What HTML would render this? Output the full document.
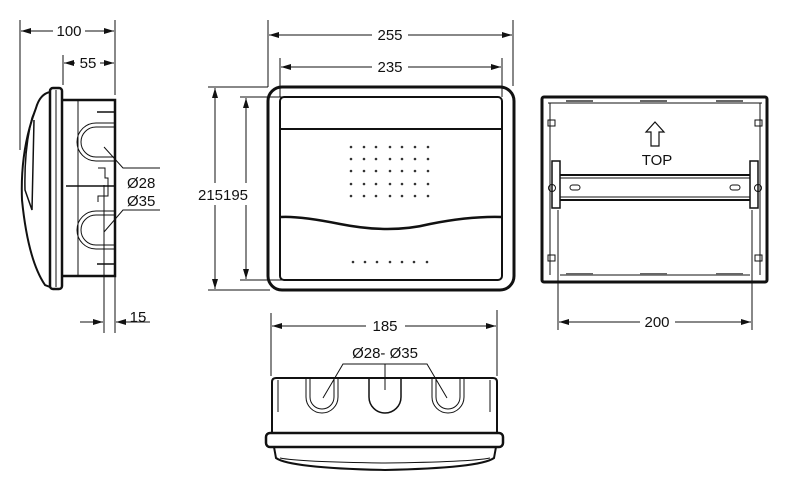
<!DOCTYPE html>
<html><head><meta charset="utf-8"><style>
html,body{margin:0;padding:0;background:#fff;}
svg{display:block;}
text{font-family:"Liberation Sans",sans-serif;font-size:15px;fill:#111;}
</style></head><body>
<svg width="800" height="501" viewBox="0 0 800 501" xmlns="http://www.w3.org/2000/svg">
<defs>
<marker id="a" viewBox="0 0 10 6" refX="10" refY="3" markerWidth="10" markerHeight="6" orient="auto-start-reverse" markerUnits="userSpaceOnUse"><path d="M0,0 L10,3 L0,6 z" fill="#111"/></marker>
</defs>
<g stroke="#111" fill="none" stroke-width="1">
<!-- LEFT VIEW dims -->
<line x1="20" y1="20" x2="20" y2="150"/>
<line x1="115" y1="20" x2="115" y2="95"/>
<line x1="63" y1="55" x2="63" y2="85"/>
<line x1="21" y1="31" x2="53" y2="31" marker-start="url(#a)"/>
<line x1="85" y1="31" x2="114" y2="31" marker-end="url(#a)"/>
<line x1="64" y1="63" x2="75" y2="63" marker-start="url(#a)"/>
<line x1="100" y1="63" x2="114" y2="63" marker-end="url(#a)"/>
<line x1="104" y1="185" x2="104" y2="333"/>
<line x1="115" y1="275" x2="115" y2="333"/>
<line x1="80" y1="322" x2="103" y2="322" marker-end="url(#a)"/>
<line x1="150" y1="322" x2="116" y2="322" marker-end="url(#a)"/>
<polyline points="104,147 123,168 160,168"/>
<polyline points="104,232 123,210 160,210"/>
<!-- left view body -->
<path d="M50,92 Q40,94 36,108 Q20,150 22,200 Q28,260 45,285 L50,287" stroke-width="2"/>
<path d="M36,108 L32,118 Q24,150 25,190 L32,210 L34,120" stroke-width="1.5"/>
<rect x="50" y="88" width="12" height="201" rx="3" stroke-width="2.5"/>
<line x1="56" y1="90" x2="56" y2="287"/>
<path d="M62,100 L115,100 L115,276 L62,276" stroke-width="2.5"/>
<line x1="78" y1="101" x2="78" y2="275"/>
<line x1="66" y1="186" x2="115" y2="186" stroke-width="1.5"/>
<line x1="97" y1="112" x2="115" y2="112" stroke-width="1.5"/>
<line x1="97" y1="264" x2="115" y2="264" stroke-width="1.5"/>
<path d="M115,127 L96,127 A15,15 0 0 0 96,157 L115,157"/>
<path d="M115,123 L96,123 A19,19 0 0 0 96,161 L115,161"/>
<path d="M115,215 L96,215 A15,15 0 0 0 96,245 L115,245"/>
<path d="M115,211 L96,211 A19,19 0 0 0 96,249 L115,249"/>
<polyline points="98,168 105,168 105,178 108,178 108,196 98,196 98,202"/>

<!-- FRONT VIEW -->
<line x1="268" y1="20" x2="268" y2="87"/>
<line x1="513" y1="20" x2="513" y2="86"/>
<line x1="280" y1="58" x2="280" y2="97"/>
<line x1="502" y1="58" x2="502" y2="97"/>
<line x1="269" y1="35" x2="372" y2="35" marker-start="url(#a)"/>
<line x1="408" y1="35" x2="512" y2="35" marker-end="url(#a)"/>
<line x1="281" y1="67" x2="372" y2="67" marker-start="url(#a)"/>
<line x1="408" y1="67" x2="501" y2="67" marker-end="url(#a)"/>
<line x1="208" y1="87" x2="268" y2="87"/>
<line x1="240" y1="97" x2="282" y2="97"/>
<line x1="240" y1="280" x2="282" y2="280"/>
<line x1="208" y1="290" x2="270" y2="290"/>
<line x1="215" y1="88" x2="215" y2="183" marker-start="url(#a)"/>
<line x1="215" y1="205" x2="215" y2="289" marker-end="url(#a)"/>
<line x1="246" y1="98" x2="246" y2="183" marker-start="url(#a)"/>
<line x1="246" y1="205" x2="246" y2="279" marker-end="url(#a)"/>
<rect x="268" y="87" width="246" height="203" rx="14" stroke-width="3"/>
<rect x="280" y="97" width="222" height="183" rx="4" stroke-width="2"/>
<line x1="280" y1="129" x2="502" y2="129" stroke-width="2"/>
<path d="M281,217 Q300,216 340,224 Q390,234 430,224 Q470,216 502,217" stroke-width="2.5"/>

<!-- RIGHT VIEW -->
<rect x="542" y="97" width="225" height="185" rx="2" stroke-width="3"/>
<line x1="550" y1="103" x2="550" y2="275"/>
<line x1="760" y1="103" x2="760" y2="275"/>
<line x1="548" y1="103" x2="762" y2="103"/>
<line x1="560" y1="275" x2="750" y2="275"/>
<line x1="566" y1="101" x2="593" y2="101" stroke-width="2" stroke="#666"/>
<line x1="640" y1="101" x2="667" y2="101" stroke-width="2" stroke="#666"/>
<line x1="716" y1="101" x2="743" y2="101" stroke-width="2" stroke="#666"/>
<line x1="566" y1="274" x2="593" y2="274" stroke-width="2" stroke="#666"/>
<line x1="640" y1="274" x2="667" y2="274" stroke-width="2" stroke="#666"/>
<line x1="716" y1="274" x2="743" y2="274" stroke-width="2" stroke="#666"/>
<rect x="548" y="120" width="7" height="6"/><rect x="755" y="120" width="7" height="6"/>
<rect x="548" y="255" width="7" height="6"/><rect x="755" y="255" width="7" height="6"/>
<path d="M655,122 L664,132 L659,132 L659,146 L651,146 L651,132 L646,132 Z" stroke-width="1.2"/>
<line x1="560" y1="175" x2="750" y2="175" stroke-width="2"/>
<line x1="560" y1="178" x2="750" y2="178"/>
<line x1="560" y1="197" x2="750" y2="197"/>
<line x1="560" y1="200" x2="750" y2="200" stroke-width="2"/>
<rect x="570" y="185" width="10" height="5" rx="2.5"/>
<rect x="730" y="185" width="10" height="5" rx="2.5"/>
<rect x="552" y="161" width="8" height="47" stroke-width="1.5"/>
<rect x="750" y="161" width="8" height="47" stroke-width="1.5"/>
<circle cx="552" cy="188" r="3.5"/><circle cx="758" cy="188" r="3.5"/>
<line x1="558" y1="210" x2="558" y2="330"/>
<line x1="752" y1="210" x2="752" y2="330"/>
<line x1="559" y1="322" x2="640" y2="322" marker-start="url(#a)"/>
<line x1="675" y1="322" x2="751" y2="322" marker-end="url(#a)"/>

<!-- BOTTOM VIEW -->
<line x1="271" y1="313" x2="271" y2="376"/>
<line x1="497" y1="310" x2="497" y2="376"/>
<line x1="272" y1="326" x2="366" y2="326" marker-start="url(#a)"/>
<line x1="405" y1="326" x2="496" y2="326" marker-end="url(#a)"/>
<polyline points="323,398 343,364 427,364 447,398"/>
<line x1="385" y1="364" x2="385" y2="390"/>
<path d="M272,433 L272,382 Q272,378 276,378 L493,378 Q497,378 497,382 L497,433" stroke-width="2"/>
<line x1="278" y1="380" x2="278" y2="412"/>
<line x1="490" y1="380" x2="490" y2="412"/>
<path d="M306,379 L306,397 A16,16 0 0 0 338,397 L338,379"/>
<path d="M310,379 L310,397 A12,12 0 0 0 334,397 L334,379"/>
<path d="M369,379 L369,397 A16,16 0 0 0 401,397 L401,379" stroke-width="1.5"/>
<path d="M432,379 L432,397 A16,16 0 0 0 464,397 L464,379"/>
<path d="M436,379 L436,397 A12,12 0 0 0 460,397 L460,379"/>
<rect x="266" y="433" width="237" height="14" rx="4" stroke-width="2.5"/>
<path d="M274,447 L276,458 Q290,468 385,470 Q480,468 494,458 L496,447" stroke-width="2"/>
<path d="M280,458 Q300,462 385,463 Q470,462 490,458"/>
</g>
<!-- dots -->
<g fill="#333">
<circle cx="351" cy="147" r="1.3"/><circle cx="364" cy="147" r="1.3"/><circle cx="376" cy="147" r="1.3"/><circle cx="390" cy="147" r="1.3"/><circle cx="402" cy="147" r="1.3"/><circle cx="415" cy="147" r="1.3"/><circle cx="428" cy="147" r="1.3"/>
<circle cx="351" cy="159" r="1.3"/><circle cx="364" cy="159" r="1.3"/><circle cx="376" cy="159" r="1.3"/><circle cx="390" cy="159" r="1.3"/><circle cx="402" cy="159" r="1.3"/><circle cx="415" cy="159" r="1.3"/><circle cx="428" cy="159" r="1.3"/>
<circle cx="351" cy="171" r="1.3"/><circle cx="364" cy="171" r="1.3"/><circle cx="376" cy="171" r="1.3"/><circle cx="390" cy="171" r="1.3"/><circle cx="402" cy="171" r="1.3"/><circle cx="415" cy="171" r="1.3"/><circle cx="428" cy="171" r="1.3"/>
<circle cx="351" cy="184" r="1.3"/><circle cx="364" cy="184" r="1.3"/><circle cx="376" cy="184" r="1.3"/><circle cx="390" cy="184" r="1.3"/><circle cx="402" cy="184" r="1.3"/><circle cx="415" cy="184" r="1.3"/><circle cx="428" cy="184" r="1.3"/>
<circle cx="351" cy="196" r="1.3"/><circle cx="364" cy="196" r="1.3"/><circle cx="376" cy="196" r="1.3"/><circle cx="390" cy="196" r="1.3"/><circle cx="402" cy="196" r="1.3"/><circle cx="415" cy="196" r="1.3"/><circle cx="428" cy="196" r="1.3"/>
<circle cx="353" cy="262" r="1.3"/><circle cx="365" cy="262" r="1.3"/><circle cx="377" cy="262" r="1.3"/><circle cx="390" cy="262" r="1.3"/><circle cx="402" cy="262" r="1.3"/><circle cx="414" cy="262" r="1.3"/><circle cx="427" cy="262" r="1.3"/>
</g>
<!-- labels -->
<text x="69" y="36" text-anchor="middle">100</text>
<text x="88" y="68" text-anchor="middle">55</text>
<text x="127" y="188">Ø28</text>
<text x="127" y="206">Ø35</text>
<text x="138" y="322" text-anchor="middle">15</text>
<text x="390" y="40" text-anchor="middle">255</text>
<text x="390" y="72" text-anchor="middle">235</text>
<text x="198" y="200">215</text>
<text x="223" y="200">195</text>
<text x="657" y="165" text-anchor="middle">TOP</text>
<text x="657" y="327" text-anchor="middle">200</text>
<text x="385" y="331" text-anchor="middle">185</text>
<text x="385" y="358" text-anchor="middle">Ø28- Ø35</text>
</svg>
</body></html>
